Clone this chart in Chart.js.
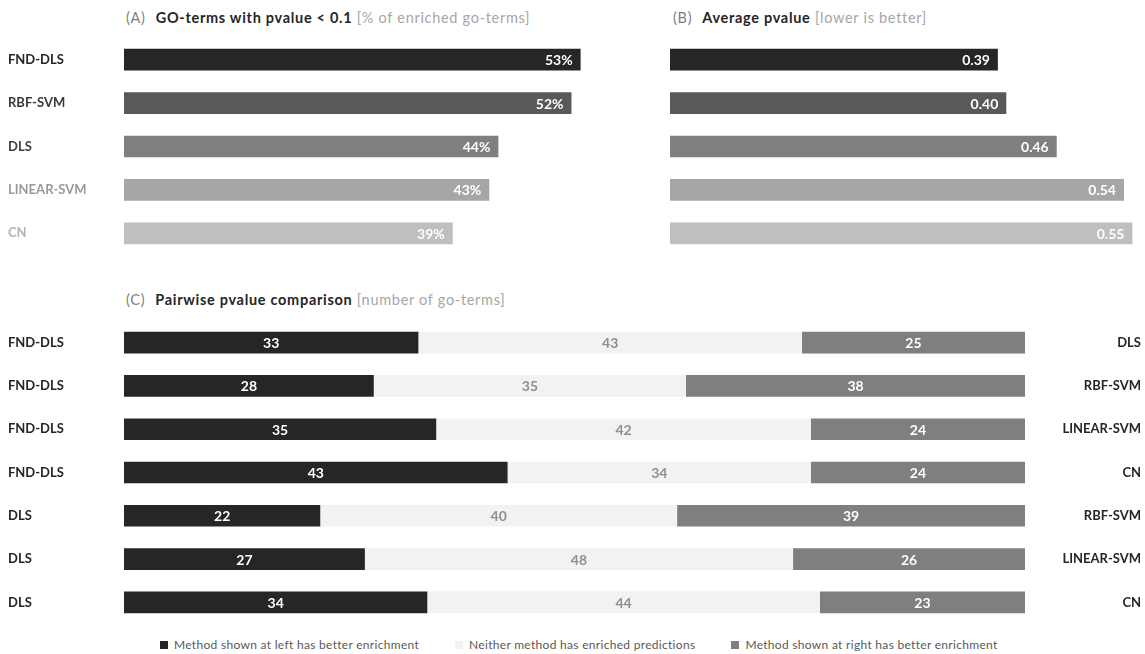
<!DOCTYPE html>
<html lang="en">
<head>
<meta charset="UTF-8">
<title>GO-term enrichment comparison</title>
<style>
  body { margin: 0; background: #fff; font-family: Lato, sans-serif; }
  .wrap { position: relative; width: 1145px; height: 654px; }
  .wrap canvas { position: absolute; }
  .ttl { position: absolute; font-size: 14.5px; line-height: 17px; letter-spacing: 0.7px; color: #262626; white-space: nowrap; }
  .ttl .tag { color: #7f7f7f; margin-right: 10px; }
  .ttl b { font-weight: 700; }
  .ttl .unit { color: #a6a6a6; }
  #legend { position: absolute; top: 637px; left: 160px; display: flex; gap: 36px; font-size: 12px; line-height: 16px; letter-spacing: 0.3px; color: #595959; white-space: nowrap; }
  #legend .sw { display: inline-block; width: 8px; height: 8px; margin-right: 6px; }
</style>
</head>
<body>
<div class="wrap">
  <div class="ttl" style="left:126px; top:9px"><span class="tag">(A)</span><b>GO-terms with pvalue &lt; 0.1</b> <span class="unit">[% of enriched go-terms]</span></div>
  <div class="ttl" style="left:673px; top:9px"><span class="tag">(B)</span><b>Average pvalue</b> <span class="unit">[lower is better]</span></div>
  <div class="ttl" style="left:126px; top:291px"><span class="tag">(C)</span><b>Pairwise pvalue comparison</b> <span class="unit">[number of go-terms]</span></div>

  <canvas id="chartA" width="608" height="241" style="left:0; top:26px"></canvas>
  <canvas id="chartB" width="475" height="241" style="left:670px; top:26px"></canvas>
  <canvas id="chartC" width="1145" height="327" style="left:0; top:309px"></canvas>
  <div id="legend"></div>
</div>

<script src="https://cdn.jsdelivr.net/npm/chart.js"></script>
<script>
// panels A and B
const methods = ['FND-DLS', 'RBF-SVM', 'DLS', 'LINEAR-SVM', 'CN'];
const enrichedPct = [53, 52, 44, 43, 39];
const avgPvalue = [0.39, 0.40, 0.46, 0.54, 0.55];
const methodColors = ['#262626', '#595959', '#7f7f7f', '#a6a6a6', '#bfbfbf'];
const methodLabelColors = ['#262626', '#3a3a3a', '#404040', '#9a9a9a', '#b3b3b3'];

// panel C
const leftMethod = ['FND-DLS', 'FND-DLS', 'FND-DLS', 'FND-DLS', 'DLS', 'DLS', 'DLS'];
const rightMethod = ['DLS', 'RBF-SVM', 'LINEAR-SVM', 'CN', 'RBF-SVM', 'LINEAR-SVM', 'CN'];
const leftBetter = [33, 28, 35, 43, 22, 27, 34];
const neither = [43, 35, 42, 34, 40, 48, 44];
const rightBetter = [25, 38, 24, 24, 39, 26, 23];
const outcomeNames = ['Method shown at left has better enrichment', 'Neither method has enriched predictions', 'Method shown at right has better enrichment'];
const outcomeColors = ['#262626', '#f2f2f2', '#7f7f7f'];
const outcomeTextColors = ['#ffffff', '#8f8f8f', '#ffffff'];

const labelFont = { family: 'Lato', size: 13, weight: 'bold' };

// writes the value inside each bar
function barText(format, where) {
    return {
        id: 'barText',
        afterDatasetsDraw(chart) {
            const ctx = chart.ctx;
            ctx.save();
            ctx.textBaseline = 'middle';
            ctx.font = 'bold 14px Lato';
            chart.data.datasets.forEach((ds, i) => {
                chart.getDatasetMeta(i).data.forEach((bar, j) => {
                    ctx.fillStyle = ds.textColor;
                    const txt = format(ds.data[j]);
                    if (where === 'end') {
                        ctx.textAlign = 'right';
                        ctx.fillText(txt, bar.x - 8, bar.y + 1);
                    } else {
                        ctx.textAlign = 'center';
                        ctx.fillText(txt, (bar.x + bar.base) / 2, bar.y + 1);
                    }
                });
            });
            ctx.restore();
        }
    };
}

const common = {
    indexAxis: 'y',
    responsive: false,
    animation: false,
    plugins: { legend: { display: false }, tooltip: { enabled: false } }
};

// (A)
new Chart(document.getElementById('chartA'), {
    type: 'bar',
    data: {
        labels: methods,
        datasets: [{
            data: enrichedPct,
            backgroundColor: methodColors,
            textColor: '#ffffff',
            barPercentage: 0.5,
            categoryPercentage: 1
        }]
    },
    options: {
        ...common,
        layout: { padding: { left: 8, right: 0, top: 12, bottom: 12 } },
        scales: {
            x: { display: false, min: 3, max: 56 },
            y: {
                grid: { display: false },
                border: { display: false },
                afterFit(s) { s.width = 116; },
                ticks: { crossAlign: 'far', padding: 0, font: labelFont, color: c => methodLabelColors[c.index] }
            }
        }
    },
    plugins: [barText(v => v + '%', 'end')]
});

// (B)
new Chart(document.getElementById('chartB'), {
    type: 'bar',
    data: {
        labels: methods,
        datasets: [{
            data: avgPvalue,
            backgroundColor: methodColors,
            textColor: '#ffffff',
            barPercentage: 0.5,
            categoryPercentage: 1
        }]
    },
    options: {
        ...common,
        layout: { padding: { left: 0, right: 0, top: 12, bottom: 12 } },
        scales: {
            x: { display: false, min: 0, max: 0.565 },
            y: { display: false }
        }
    },
    plugins: [barText(v => v.toFixed(2), 'end')]
});

// (C)
const segments = [leftBetter, neither, rightBetter];
new Chart(document.getElementById('chartC'), {
    type: 'bar',
    data: {
        labels: leftMethod,
        datasets: segments.map((vals, i) => ({
            label: outcomeNames[i],
            data: vals,
            backgroundColor: outcomeColors[i],
            textColor: outcomeTextColors[i],
            barPercentage: 0.5,
            categoryPercentage: 1
        }))
    },
    options: {
        ...common,
        layout: { padding: { left: 8, right: 4, top: 12, bottom: 12 } },
        scales: {
            x: { display: false, stacked: true, min: 0, max: 101 },
            y: {
                stacked: true,
                grid: { display: false },
                border: { display: false },
                afterFit(s) { s.width = 116; },
                ticks: { crossAlign: 'far', padding: 0, font: labelFont, color: '#262626' }
            },
            y2: {
                type: 'category',
                position: 'right',
                labels: rightMethod,
                offset: true,
                grid: { display: false },
                border: { display: false },
                afterFit(s) { s.width = 116; },
                ticks: { crossAlign: 'far', padding: 0, font: labelFont, color: '#262626' }
            }
        }
    },
    plugins: [barText(v => String(v), 'center')]
});

// legend under panel C
const legend = document.getElementById('legend');
outcomeNames.forEach((name, i) => {
    const item = document.createElement('span');
    item.innerHTML = '<span class="sw" style="background:' + outcomeColors[i] + '"></span>' + name;
    legend.appendChild(item);
});
</script>
</body>
</html>
